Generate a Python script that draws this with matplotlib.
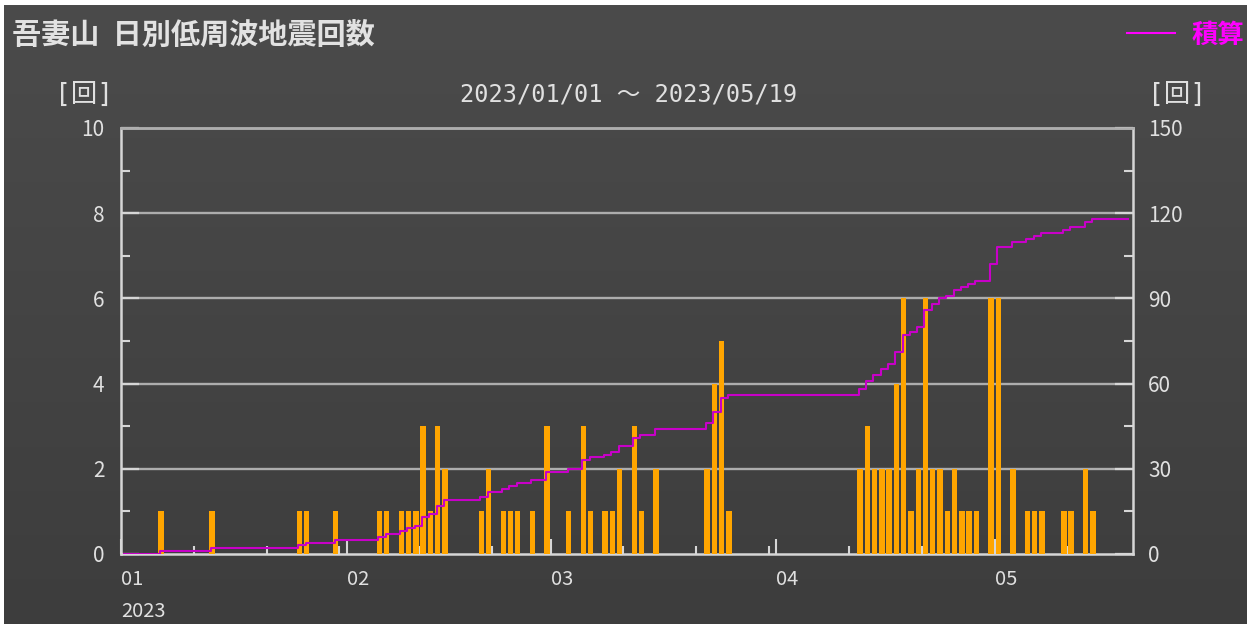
import matplotlib
matplotlib.use("Agg")
import matplotlib.pyplot as plt
import numpy as np
import pandas as pd
from matplotlib.colors import LinearSegmentedColormap

plt.rcParams['font.family'] = ['Noto Sans CJK JP', 'DejaVu Sans']

# daily low-frequency earthquake counts (days with zero are omitted)
event_dates = [
    "2023-01-06", "2023-01-13", "2023-01-25", "2023-01-26", "2023-01-30",
    "2023-02-05", "2023-02-06", "2023-02-08", "2023-02-09", "2023-02-10",
    "2023-02-11", "2023-02-12", "2023-02-13", "2023-02-14", "2023-02-19",
    "2023-02-20", "2023-02-22", "2023-02-23", "2023-02-24", "2023-02-26",
    "2023-02-28",
    "2023-03-03", "2023-03-05", "2023-03-06", "2023-03-08", "2023-03-09",
    "2023-03-10", "2023-03-12", "2023-03-13", "2023-03-15", "2023-03-22",
    "2023-03-23", "2023-03-24", "2023-03-25",
    "2023-04-12", "2023-04-13", "2023-04-14", "2023-04-15", "2023-04-16",
    "2023-04-17", "2023-04-18", "2023-04-19", "2023-04-20", "2023-04-21",
    "2023-04-22", "2023-04-23", "2023-04-24", "2023-04-25", "2023-04-26",
    "2023-04-27", "2023-04-28", "2023-04-30",
    "2023-05-01", "2023-05-03", "2023-05-05", "2023-05-06", "2023-05-07",
    "2023-05-10", "2023-05-11", "2023-05-13", "2023-05-14",
]
event_counts = [
    1, 1, 1, 1, 1,
    1, 1, 1, 1, 1,
    3, 1, 3, 2, 1,
    2, 1, 1, 1, 1,
    3,
    1, 3, 1, 1, 1,
    2, 3, 1, 2, 2,
    4, 5, 1,
    2, 3, 2, 2, 2,
    4, 6, 1, 2, 6,
    2, 2, 1, 2, 1,
    1, 1, 6,
    6, 2, 1, 1, 1,
    1, 1, 2, 1,
]

start = pd.Timestamp("2023-01-01")
end = pd.Timestamp("2023-05-19")
days = pd.date_range(start, end, freq="D")
n_days = len(days)

daily = pd.Series(0, index=days)
daily[pd.to_datetime(event_dates)] = event_counts
day_idx = np.arange(n_days)
cumulative = np.cumsum(daily.values)

month_labels = ["01", "02", "03", "04", "05"]
month_pos = [(pd.Timestamp(f"2023-{m}-01") - start).days for m in month_labels]
minor_pos = [i for i, d in enumerate(days) if d.day in (11, 21, 31)]

W, H = 1247, 624
fig = plt.figure(figsize=(W / 100, H / 100), dpi=100)
fig.patch.set_facecolor("white")

# gray gradient background (white strip on top/left like the screenshot)
bg = fig.add_axes([4 / W, 0, 1 - 4 / W, 1 - 5 / H], zorder=-10)
grad = np.linspace(0, 1, 256).reshape(-1, 1)
cmap = LinearSegmentedColormap.from_list("bg", ["#3d3d3d", "#4b4b4b"])
bg.imshow(grad, aspect="auto", cmap=cmap, origin="lower")
bg.axis("off")

ax = fig.add_axes([121 / W, 1 - 554 / H, (1133 - 121) / W, (554 - 128) / H])
ax.set_facecolor("none")
ax2 = ax.twinx()

grid_c = "#adadad"
spine_c = "#d6d6d6"
txt_c = "#e0e0e0"

ax.bar(day_idx + 0.5, daily.values, width=0.74, color="#ffa500", zorder=3)
ax.set_ylim(0, 10)
ax.set_xlim(0, n_days)
ax.set_yticks([0, 2, 4, 6, 8, 10])
ax.set_yticks([1, 3, 5, 7, 9], minor=True)
for v in [2, 4, 6, 8, 10]:
    ax.axhline(v, color=grid_c, lw=1.7, zorder=1)

ax.set_xticks(month_pos)
ax.set_xticklabels(month_labels, ha="left")
ax.set_xticks(minor_pos, minor=True)

ax2.step(day_idx + 0.35, cumulative, where="post", color="#c800c8", lw=1.5, zorder=2)
ax2.set_ylim(0, 150)
ax2.set_yticks([0, 30, 60, 90, 120, 150])
ax2.set_yticks([15, 45, 75, 105, 135], minor=True)

for a in (ax, ax2):
    for s in a.spines.values():
        s.set_color(spine_c)
        s.set_linewidth(1.8)
    a.spines["top"].set_color(grid_c)
ax.spines["right"].set_visible(False)
ax2.spines["left"].set_visible(False)
ax2.spines["bottom"].set_visible(False)

ax.tick_params(axis="x", which="major", direction="in", length=11, width=1.5,
               color=spine_c, pad=11, labelsize=14.5, labelcolor=txt_c)
ax.tick_params(axis="x", which="minor", direction="in", length=5.5, width=1.5,
               color=spine_c)
ax.tick_params(axis="y", which="major", direction="in", length=13, width=1.6,
               color=spine_c, pad=12, labelsize=15, labelcolor=txt_c)
ax.tick_params(axis="y", which="minor", direction="in", length=6.5, width=1.5,
               color=spine_c)
ax2.tick_params(axis="y", which="major", direction="in", length=13, width=1.6,
                color=spine_c, pad=11, labelsize=15, labelcolor=txt_c)
ax2.tick_params(axis="y", which="minor", direction="in", length=6.5, width=1.5,
                color=spine_c)

ax.text(0, -0.135, "2023", transform=ax.get_xaxis_transform(), ha="left",
        va="center", fontsize=14.5, color=txt_c)

mono = ["DejaVu Sans Mono", "Noto Sans CJK JP"]
fig.text(12 / W, 1 - 35 / H, "吾妻山  日別低周波地震回数", ha="left", va="center",
         fontsize=21, fontweight="bold", color="#e2e2e2")
fig.text(84 / W, 1 - 95 / H, "[回]", ha="center", va="center", fontsize=19,
         family=mono, color=txt_c)
fig.text(1177 / W, 1 - 95 / H, "[回]", ha="center", va="center", fontsize=19,
         family=mono, color=txt_c)
fig.text(629 / W, 1 - 95 / H, "2023/01/01 〜 2023/05/19", ha="center",
         va="center", fontsize=17, family=mono, color=txt_c)

fig.add_artist(plt.Line2D([1127 / W, 1175 / W], [1 - 33 / H, 1 - 33 / H],
                          color="#ff00ff", lw=1.5))
fig.text(1192 / W, 1 - 35 / H, "積算", ha="left", va="center", fontsize=19,
         fontweight="bold", color="#ff00ff")

fig.savefig("out.png", dpi=100, facecolor=fig.get_facecolor())
